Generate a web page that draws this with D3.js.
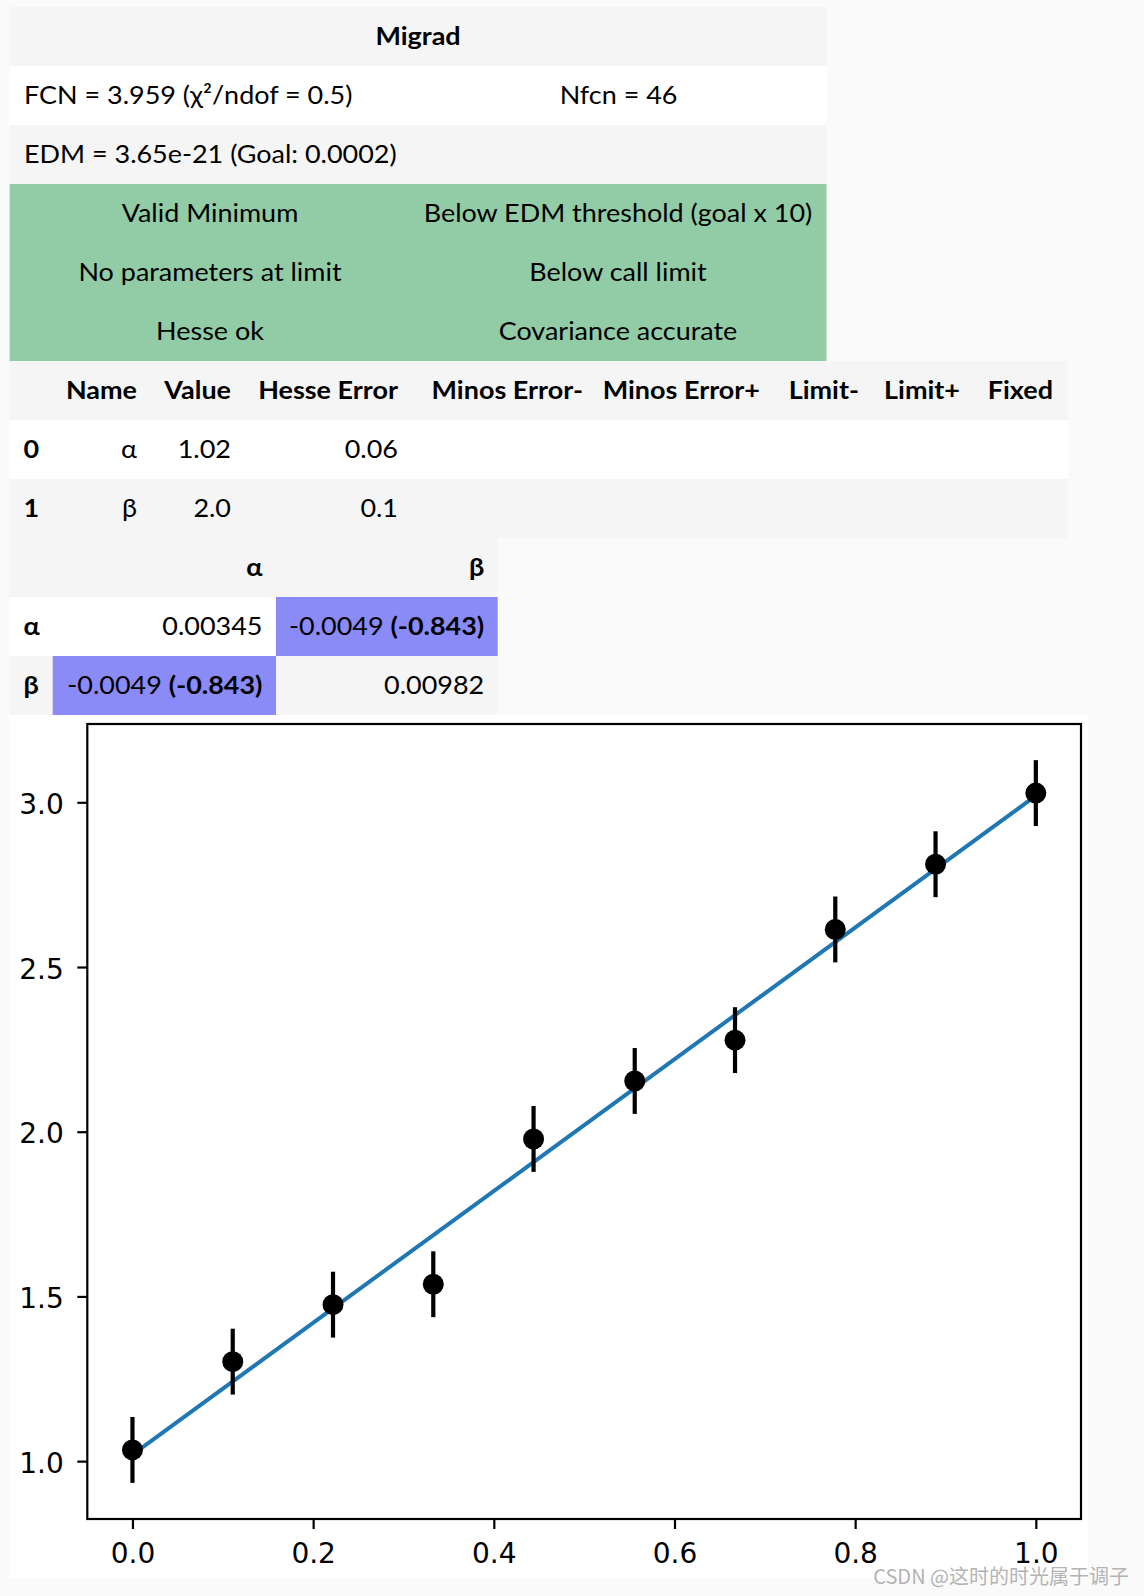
<!DOCTYPE html>
<meta charset="utf-8">
<head>
  <title>Migrad fit</title>
</head>

<style>
body {
  margin: 0;
  background: #fafafa;
}
svg text {
  font-family: Lato, "Noto Sans", sans-serif;
  fill: #000;
}
</style>

<body>
  <div id="content"></div>

  <script src="https://cdn.jsdelivr.net/npm/d3@7"></script>

  <script>
// fit summary (Migrad)
var migradTitle = 'Migrad';
var fcnText = 'FCN = 3.959 (χ²/ndof = 0.5)';
var nfcnText = 'Nfcn = 46';
var edmText = 'EDM = 3.65e-21 (Goal: 0.0002)';
var statusLeft = ['Valid Minimum', 'No parameters at limit', 'Hesse ok'];
var statusRight = ['Below EDM threshold (goal x 10)', 'Below call limit', 'Covariance accurate'];

// parameters
var paramHeaders = ['', 'Name', 'Value', 'Hesse Error', 'Minos Error-', 'Minos Error+', 'Limit-', 'Limit+', 'Fixed'];
var paramIndex = ['0', '1'];
var paramNames = ['α', 'β'];
var paramValues = ['1.02', '2.0'];
var paramErrors = ['0.06', '0.1'];

// covariance
var covNames = ['α', 'β'];
var covValues = [['0.00345', '-0.0049'], ['-0.0049', '0.00982']];
var corrValues = [[null, '(-0.843)'], ['(-0.843)', null]];

// data points and fitted line
var xData = [0.0, 0.111, 0.222, 0.333, 0.444, 0.556, 0.667, 0.778, 0.889, 1.0];
var yData = [1.034, 1.302, 1.475, 1.537, 1.978, 2.154, 2.278, 2.614, 2.812, 3.028];
var yErr = [0.1, 0.1, 0.1, 0.1, 0.1, 0.1, 0.1, 0.1, 0.1, 0.1];
var fitX = [0.0, 1.0];
var fitY = [1.02, 3.02];
var xTicks = [0.0, 0.2, 0.4, 0.6, 0.8, 1.0];
var yTicks = [1.0, 1.5, 2.0, 2.5, 3.0];

var W = 1144, H = 1596;
var rowH = 59;
var fs = 24.5;
var stretch = 1.1;

var svg = d3.select('#content').append('svg')
  .attr('width', W)
  .attr('height', H);

svg.append('rect').attr('width', W).attr('height', H).attr('fill', '#fafafa');

function row(y, x0, x1, fill) {
  svg.append('rect')
    .attr('x', x0).attr('y', y)
    .attr('width', x1 - x0).attr('height', rowH)
    .attr('fill', fill);
}

// table text, a bit wider than plain Lato like the notebook render
function txt(x, y, s, anchor, bold) {
  return svg.append('text')
    .attr('transform', 'translate(' + x + ',' + (y + 37.5) + ') scale(' + stretch + ',1)')
    .attr('text-anchor', anchor || 'start')
    .attr('font-size', fs)
    .attr('font-weight', bold ? 'bold' : 'normal')
    .text(s);
}

// ---- Migrad table
var t0 = 7, tl = 9.6, tr = 826.5;
row(t0, tl, tr, '#f5f5f5');
row(t0 + rowH, tl, tr, '#ffffff');
row(t0 + 2 * rowH, tl, tr, '#f5f5f5');
txt((tl + tr) / 2, t0, migradTitle, 'middle', true);
txt(24, t0 + rowH, fcnText);
txt(559.7, t0 + rowH, nfcnText);
txt(24, t0 + 2 * rowH, edmText);

var g0 = t0 + 3 * rowH;
svg.append('rect')
  .attr('x', tl).attr('y', g0)
  .attr('width', tr - tl).attr('height', 3 * rowH)
  .attr('fill', '#92cca6');
statusLeft.forEach(function(s, i) { txt(210, g0 + i * rowH, s, 'middle'); });
statusRight.forEach(function(s, i) { txt(618, g0 + i * rowH, s, 'middle'); });

// ---- parameter table
var p0 = g0 + 3 * rowH, pr = 1068;
var colRight = [null, 137, 231, 398, 583, 760, 859, 960, 1053];
row(p0, tl, pr, '#f5f5f5');
row(p0 + rowH, tl, pr, '#ffffff');
row(p0 + 2 * rowH, tl, pr, '#f5f5f5');
paramHeaders.forEach(function(h, i) {
  if (h) txt(colRight[i], p0, h, 'end', true);
});
paramIndex.forEach(function(idx, i) {
  var y = p0 + (i + 1) * rowH;
  txt(23.5, y, idx, 'start', true);
  txt(colRight[1], y, paramNames[i], 'end');
  txt(colRight[2], y, paramValues[i], 'end');
  txt(colRight[3], y, paramErrors[i], 'end');
});

// ---- covariance table
var c0 = p0 + 3 * rowH, cr = 497.7;
var covCols = [[52.7, 276], [276, cr]];
row(c0, tl, cr, '#f5f5f5');
row(c0 + rowH, tl, cr, '#ffffff');
row(c0 + 2 * rowH, tl, cr, '#f5f5f5');
covNames.forEach(function(n, j) { txt(covCols[j][1] - 13.5, c0, n, 'end', true); });
covNames.forEach(function(n, i) {
  var y = c0 + (i + 1) * rowH;
  txt(23.5, y, n, 'start', true);
  covValues[i].forEach(function(v, j) {
    var c = covCols[j];
    if (corrValues[i][j] !== null) {
      svg.append('rect')
        .attr('x', c[0]).attr('y', y)
        .attr('width', c[1] - c[0]).attr('height', rowH)
        .attr('fill', '#8b8bf8');
      var t = txt(c[1] - 13.5, y, '', 'end');
      t.append('tspan').text(v + ' ');
      t.append('tspan').attr('font-weight', 'bold').text(corrValues[i][j]);
    } else {
      txt(c[1] - 13.5, y, v, 'end');
    }
  });
});

// ---- plot
var figTop = c0 + 3 * rowH;
svg.append('rect')
  .attr('x', 10).attr('y', figTop)
  .attr('width', 1078).attr('height', 1578 - figTop)
  .attr('fill', '#ffffff');

var pLeft = 87.3, pRight = 1081, pTop = 724, pBottom = 1519;

var xMin = d3.min(xData), xMax = d3.max(xData);
var xPad = (xMax - xMin) * 0.05;
var lo = d3.min(yData.map(function(v, i) { return v - yErr[i]; }));
var hi = d3.max(yData.map(function(v, i) { return v + yErr[i]; }));
var yPad = (hi - lo) * 0.05;

var x = d3.scaleLinear().domain([xMin - xPad, xMax + xPad]).range([pLeft, pRight]);
var y = d3.scaleLinear().domain([lo - yPad, hi + yPad]).range([pBottom, pTop]);

var plot = svg.append('g');

plot.append('path')
  .datum(fitX.map(function(v, i) { return [v, fitY[i]]; }))
  .attr('fill', 'none')
  .attr('stroke', '#1f77b4')
  .attr('stroke-width', 4)
  .attr('d', d3.line().x(function(d) { return x(d[0]); }).y(function(d) { return y(d[1]); }));

var pts = xData.map(function(v, i) { return {x: v, y: yData[i], e: yErr[i]}; });

plot.selectAll('.err').data(pts).enter().append('line')
  .attr('class', 'err')
  .attr('x1', function(d) { return x(d.x); })
  .attr('x2', function(d) { return x(d.x); })
  .attr('y1', function(d) { return y(d.y - d.e); })
  .attr('y2', function(d) { return y(d.y + d.e); })
  .attr('stroke', '#000')
  .attr('stroke-width', 4.2);

plot.selectAll('.dot').data(pts).enter().append('circle')
  .attr('class', 'dot')
  .attr('cx', function(d) { return x(d.x); })
  .attr('cy', function(d) { return y(d.y); })
  .attr('r', 10.5)
  .attr('fill', '#000');

var xAxis = svg.append('g')
  .attr('transform', 'translate(0,' + pBottom + ')')
  .call(d3.axisBottom(x).tickValues(xTicks).tickFormat(d3.format('.1f')).tickSize(10).tickPadding(14));
var yAxis = svg.append('g')
  .attr('transform', 'translate(' + pLeft + ',0)')
  .call(d3.axisLeft(y).tickValues(yTicks).tickFormat(d3.format('.1f')).tickSize(10).tickPadding(13.5));

[xAxis, yAxis].forEach(function(a) {
  a.select('.domain').remove();
  a.selectAll('.tick line').attr('stroke', '#000').attr('stroke-width', 2.2);
  a.selectAll('.tick text')
    .style('font-family', '"DejaVu Sans", sans-serif')
    .attr('font-size', 28)
    .attr('fill', '#000');
});
yAxis.selectAll('.tick text').attr('dy', '0.4em');

svg.append('rect')
  .attr('x', pLeft).attr('y', pTop)
  .attr('width', pRight - pLeft).attr('height', pBottom - pTop)
  .attr('fill', 'none')
  .attr('stroke', '#000')
  .attr('stroke-width', 2.2);

// watermark
svg.append('text')
  .attr('x', 1129).attr('y', 1584)
  .attr('text-anchor', 'end')
  .attr('font-size', 20)
  .style('font-family', '"Noto Sans CJK SC", sans-serif')
  .style('fill', '#b4b4b4')
  .text('CSDN @这时的时光属于调子');
  </script>
</body>
</html>
